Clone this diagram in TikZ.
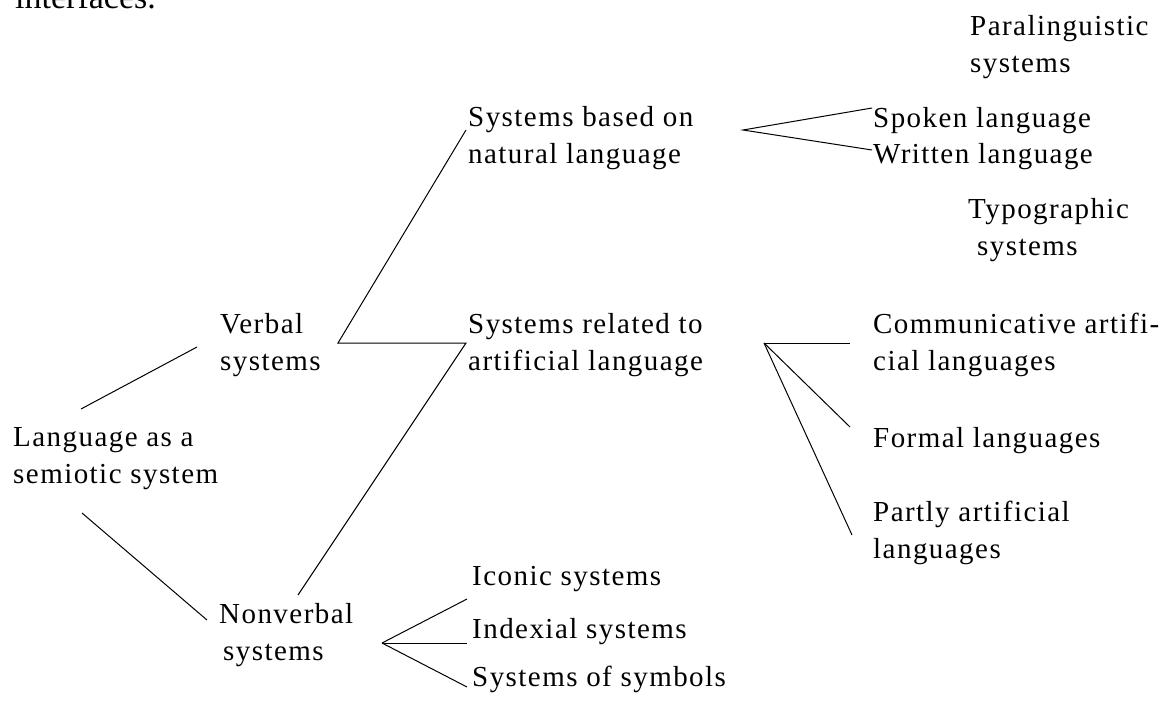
\documentclass[tikz,border=0pt]{standalone}
\usepackage{fontspec}
\setmainfont{Liberation Serif}
\begin{document}
\begin{tikzpicture}[x=1pt,y=-1pt,
  lbl/.style={anchor=base west, inner sep=0pt, align=left,
    font=\fontsize{29}{36.5}\selectfont\addfontfeature{LetterSpace=5}},
  conn/.style={draw=black, line width=1pt}]
\useasboundingbox (0,0) rectangle (1166,702);
% cut-off text at the top
\node[anchor=base west, inner sep=0pt, font=\fontsize{34}{40}\selectfont] (intf) at (15,8) {interfaces.};
% labels (anchor = baseline of the last line)
\node[lbl] (lang) at (13,483) {Language as a\\semiotic system};
\node[lbl] (verb) at (220,370) {Verbal\\systems};
\node[lbl] (nonv) at (219,660) {Nonverbal\\\hspace*{4pt}systems};
\node[lbl] (nat) at (468,163) {Systems based on\\natural language};
\node[lbl] (art) at (468,370) {Systems related to\\artificial language};
\node[lbl] (para) at (970,72) {Paralinguistic\\systems};
\node[lbl] (spok) at (873,127) {Spoken language};
\node[lbl] (writ) at (873,163) {Written language};
\node[lbl] (typo) at (968,255) {Typographic\\\hspace*{9pt}systems};
\node[lbl] (comm) at (873,370) {Communicative artifi-\\cial languages};
\node[lbl] (form) at (873,447) {Formal languages};
\node[lbl] (part) at (873,558) {Partly artificial\\languages};
\node[lbl] (icon) at (472,585) {Iconic systems};
\node[lbl] (indx) at (472,638) {Indexial systems};
\node[lbl] (symb) at (472,686) {Systems of symbols};
% connector end points
\coordinate (langT) at (81,409);
\coordinate (langB) at (82,513);
\coordinate (verbL) at (197,347);
\coordinate (nonvL) at (207,620);
\coordinate (verbV) at (338,343);
\coordinate (natL) at (466,130);
\coordinate (artL) at (466,343);
\coordinate (nonvT) at (298,595);
\coordinate (natV) at (743,130);
\coordinate (spokL) at (872,108);
\coordinate (writL) at (872,150);
\coordinate (artV) at (764,343);
\coordinate (commL) at (850,343);
\coordinate (formL) at (850,427);
\coordinate (partL) at (852,535);
\coordinate (nonvV) at (382,643);
\coordinate (iconL) at (467,599);
\coordinate (indxL) at (467,643);
\coordinate (symbL) at (467,687);
% connectors
\draw[conn] (langT) -- (verbL);
\draw[conn] (langB) -- (nonvL);
\draw[conn] (natL) -- (verbV) -- (artL) -- (nonvT);
\draw[conn] (spokL) -- (natV) -- (writL);
\draw[conn] (artV) -- (commL);
\draw[conn] (artV) -- (formL);
\draw[conn] (artV) -- (partL);
\draw[conn] (nonvV) -- (iconL);
\draw[conn] (nonvV) -- (indxL);
\draw[conn] (nonvV) -- (symbL);
\end{tikzpicture}
\end{document}
